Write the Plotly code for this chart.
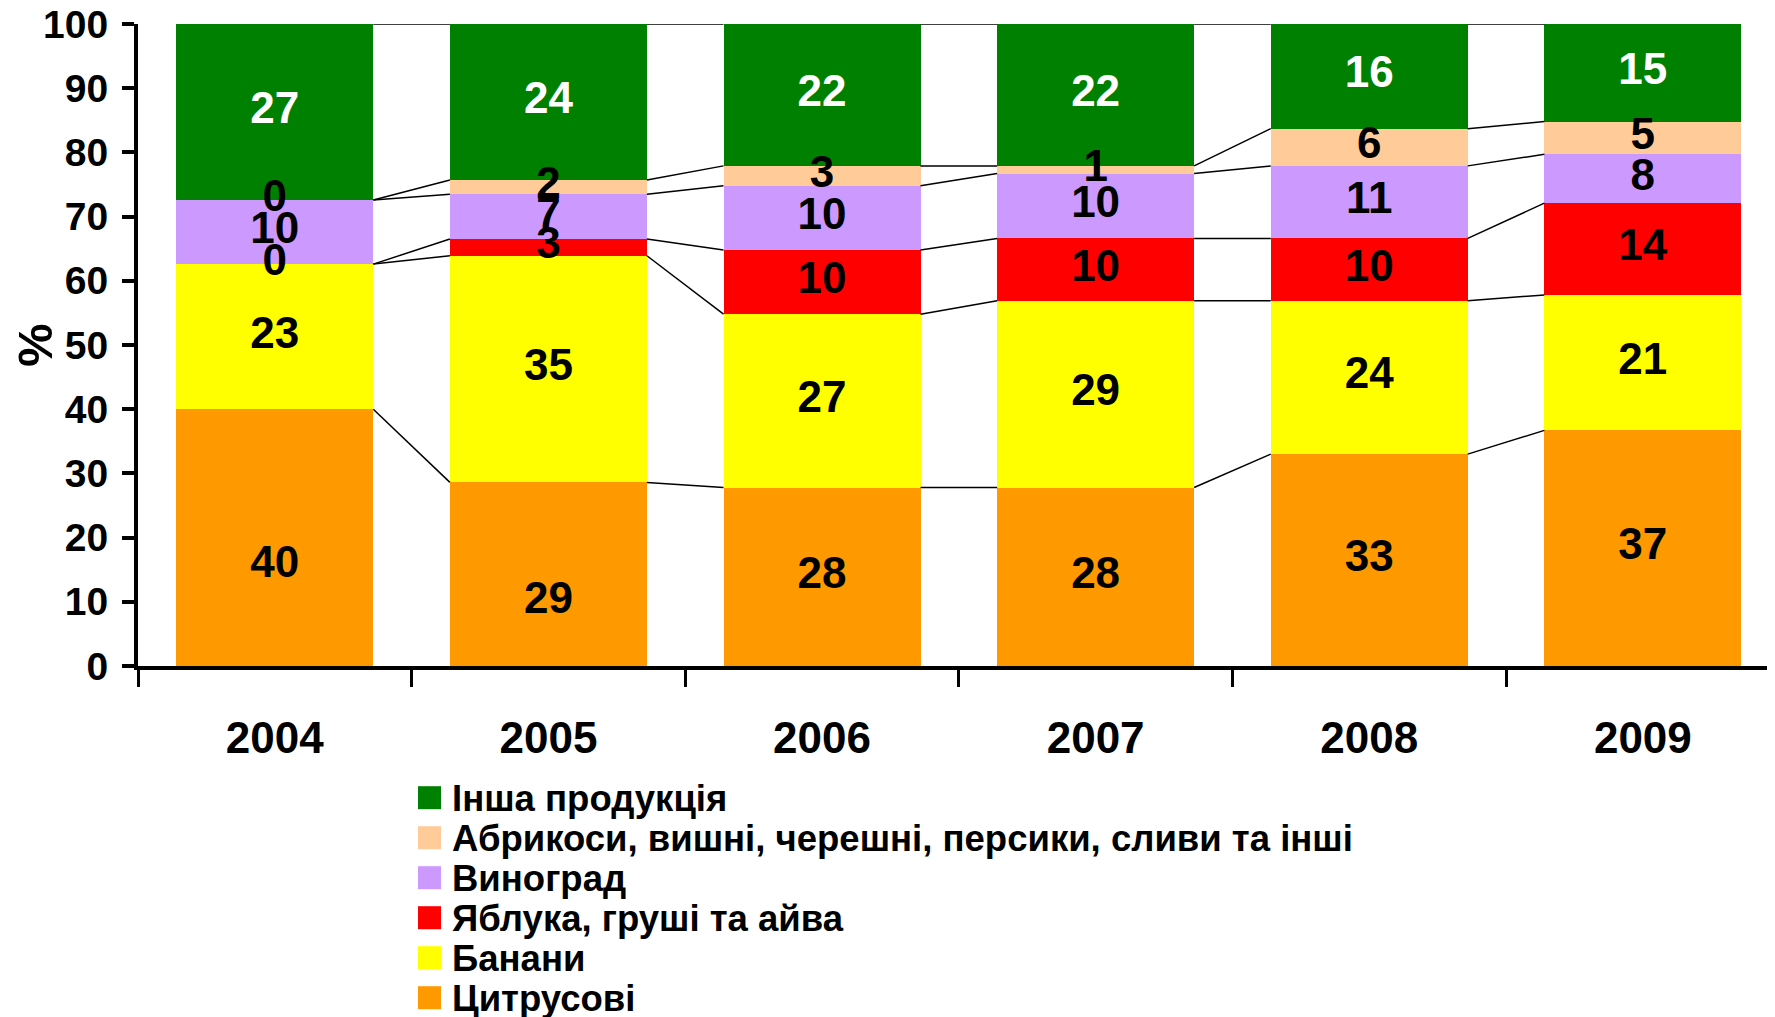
import plotly.graph_objects as go

# ---------------- data ----------------
years = ["2004", "2005", "2006", "2007", "2008", "2009"]
citrus = [40.0, 28.6, 27.8, 27.8, 33.0, 36.7]
bananas = [22.6, 35.3, 27.0, 29.1, 23.9, 21.1]
apples = [0.0, 2.6, 10.0, 9.7, 9.7, 14.3]
grapes = [10.0, 7.0, 10.0, 10.1, 11.3, 7.6]
stone_fruit = [0.0, 2.2, 3.1, 1.2, 5.8, 5.1]
other = [27.4, 24.3, 22.1, 22.1, 16.3, 15.2]

series_names = [
    "Цитрусові",
    "Банани",
    "Яблука, груші та айва",
    "Виноград",
    "Абрикоси, вишні, черешні, персики, сливи та інші",
    "Інша продукція",
]
series_values = [citrus, bananas, apples, grapes, stone_fruit, other]
series_colors = ["#FF9900", "#FFFF00", "#FF0000", "#CC99FF", "#FFCC99", "#008000"]
label_colors = ["black", "black", "black", "black", "black", "white"]
y_ticks = list(range(0, 101, 10))
y_title = "%"
# labels moved by hand in the original (series index, year index): shift in %
label_nudge = {(0, 0): -4.5, (0, 1): -4.4}

# ---------------- layout constants ----------------
PAGE_OFF = 8                      # default body margin of the html page
W, H = 1775 - PAGE_OFF, 1017 - PAGE_OFF
L, T, B, R = 138 - PAGE_OFF, 24 - PAGE_OFF, 351, 0
PH = H - T - B
PW = W - L - R
BAR_W = 0.72
X_RANGE = [-0.5, 5.483]
FONT = "Liberation Sans, Arial, sans-serif"

fig = go.Figure()

# stacked bars
for name, vals, col in zip(series_names, series_values, series_colors):
    fig.add_trace(go.Bar(
        x=years, y=vals, name=name, width=BAR_W,
        marker=dict(color=col, line=dict(width=0)),
        showlegend=False, hoverinfo="skip",
    ))

# cumulative tops / bottoms
n = len(years)
bottoms, tops = [], []
run = [0.0] * n
for vals in series_values:
    bottoms.append(run[:])
    run = [r + v for r, v in zip(run, vals)]
    tops.append(run[:])

# series lines (connect segment tops between neighbouring bars)
hw = BAR_W / 2
for k in range(len(series_values)):
    xs, ys = [], []
    for i in range(n - 1):
        xs += [i + hw, i + 1 - hw, None]
        ys += [tops[k][i], tops[k][i + 1], None]
    fig.add_trace(go.Scatter(
        x=xs, y=ys, xaxis="x2", yaxis="y", mode="lines",
        line=dict(color="black", width=1.5),
        showlegend=False, hoverinfo="skip",
    ))

# data labels
for k, vals in enumerate(series_values):
    ypos = [bottoms[k][i] + vals[i] / 2 + label_nudge.get((k, i), 0) for i in range(n)]
    fig.add_trace(go.Scatter(
        x=years, y=ypos, mode="text",
        text=[f"{v:.0f}" for v in vals],
        textposition="middle center",
        textfont=dict(family=FONT, size=44, color=label_colors[k], weight="bold"),
        showlegend=False, hoverinfo="skip",
    ))

# custom legend (top to bottom: reversed series order)
def px_to_paper_x(px):
    return (px - PAGE_OFF - L) / PW

def py_to_paper_y(py):
    return (H - B - (py - PAGE_OFF)) / PH

annotations = []
shapes = []
row0, row_gap = 797.7, 40.0
for j, k in enumerate(reversed(range(len(series_names)))):
    cy = row0 + j * row_gap
    shapes.append(dict(
        type="rect", xref="paper", yref="paper",
        x0=px_to_paper_x(418), x1=px_to_paper_x(441),
        y0=py_to_paper_y(cy + 11.5), y1=py_to_paper_y(cy - 11.5),
        fillcolor=series_colors[k], line=dict(width=0),
    ))
    annotations.append(dict(
        xref="paper", yref="paper", x=px_to_paper_x(450), y=py_to_paper_y(cy + 1),
        xanchor="left", yanchor="middle", showarrow=False,
        text=series_names[k],
        font=dict(family=FONT, size=36.5, color="black", weight="bold"),
    ))

# y axis title
annotations.append(dict(
    xref="paper", yref="paper", x=px_to_paper_x(35), y=py_to_paper_y(345),
    xanchor="center", yanchor="middle", showarrow=False, textangle=-90,
    text=y_title, font=dict(family=FONT, size=49, color="black", weight="bold"),
))

fig.update_layout(
    width=W, height=H,
    margin=dict(l=L, r=R, t=T, b=B, pad=0, autoexpand=False),
    paper_bgcolor="white", plot_bgcolor="white",
    barmode="stack", bargap=0.28,
    showlegend=False,
    font=dict(family=FONT, color="black"),
    xaxis=dict(
        type="category", categoryorder="array", categoryarray=years,
        range=X_RANGE, showgrid=False, zeroline=False, automargin=False,
        showline=True, linecolor="black", linewidth=4,
        ticks="outside", tickson="boundaries", ticklen=17, tickwidth=3, tickcolor="black",
        tickfont=dict(family=FONT, size=44, color="black", weight="bold"),
        ticklabelstandoff=30,
    ),
    xaxis2=dict(
        overlaying="x", anchor="y", range=X_RANGE, visible=False, showgrid=False,
        automargin=False,
    ),
    yaxis=dict(
        range=[0, 100], tickvals=y_ticks, showgrid=False, zeroline=False, automargin=False,
        showline=True, linecolor="black", linewidth=4,
        ticks="outside", ticklen=12, tickwidth=4, tickcolor="black",
        tickfont=dict(family=FONT, size=39, color="black", weight="bold"),
        ticklabelstandoff=6, ticklabeloverflow="allow",
    ),
    annotations=annotations,
    shapes=shapes,
)

fig.write_html("out.html")
